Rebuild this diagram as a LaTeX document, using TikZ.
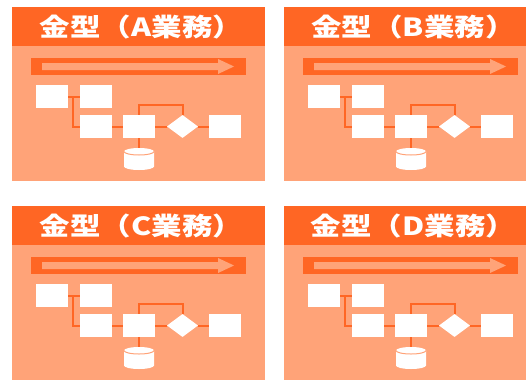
\documentclass[tikz,border=0pt]{standalone}
\usepackage{fontspec}
\usepackage{graphicx}
\newfontfamily\cjk{Noto Sans CJK JP}
\usetikzlibrary{shapes.geometric}
\definecolor{dk}{HTML}{FF6624}
\definecolor{lt}{HTML}{FFA378}
\tikzset{
  panelbody/.style={fill=lt, draw=none},
  panelhead/.style={fill=dk, draw=none},
  titletext/.style={text=white, font=\cjk\bfseries\fontsize{25}{25}\selectfont, inner sep=0},
  wbox/.style={fill=white, draw=none, rectangle, minimum width=32pt, minimum height=23pt, inner sep=0},
  wdiam/.style={fill=white, draw=none, diamond, minimum width=31pt, minimum height=23pt, inner sep=0, aspect=1.35},
  conn/.style={draw=dk, line width=2pt},
}
\begin{document}
\begin{tikzpicture}[x=1pt, y=-1pt]
\useasboundingbox (0,0) rectangle (526,380);
\clip (0,0) rectangle (526,380);
\foreach \i/\dx/\dy/\L in {a/0/0/A, b/272/0/B, c/0/199/C, d/272/199/D}{
\begin{scope}[shift={(\dx,\dy)}]
  \path[panelbody] (12,7) rectangle (265,181);
  \path[panelhead] (12,7) rectangle (265,46);
  \node[titletext] (t\i) at (141.5,27) {\scalebox{1.22}[1]{金型（\L 業務）}};
  % process arrow bar
  \path[fill=dk] (31,58) rectangle (246,75);
  \path[fill=lt] (42,63) -- (218,63) -- (218,59) -- (234,66.5) -- (218,74) -- (218,70) -- (42,70) -- cycle;
  % boxes
  \node[wbox] (p1\i) at (52,96.5) {};
  \node[wbox] (p2\i) at (96,96.5) {};
  \node[wbox] (p3\i) at (96,126.5) {};
  \node[wbox] (p4\i) at (139,126.5) {};
  \node[wdiam] (q\i) at (182.5,126.5) {};
  \node[wbox] (p5\i) at (225,126.5) {};
  \coordinate (cy\i) at (139,148);
  % connectors
  \draw[conn] (p1\i.east) -- (p2\i.west);
  \draw[conn] (73,96.5) -- (73,126.5) -- (p3\i.west);
  \draw[conn] (p3\i.east) -- (p4\i.west);
  \draw[conn] (p4\i.east) -- (q\i.west);
  \draw[conn] (q\i.east) -- (p5\i.west);
  \draw[conn] (p4\i.north) -- (139,105) -- (182.5,105) -- (q\i.north);
  \draw[conn] (p4\i.south) -- (cy\i);
  % cylinder
  \path[fill=white] (124,151.5) -- (124,166.5) arc[start angle=180, end angle=0, x radius=15, y radius=3.5]
     -- (154,151.5) arc[start angle=0, end angle=-180, x radius=15, y radius=3.5] -- cycle;
  \draw[lt, line width=1pt] (124,151.5) arc[start angle=180, end angle=0, x radius=15, y radius=3.5];
\end{scope}
}
\end{tikzpicture}
\end{document}
